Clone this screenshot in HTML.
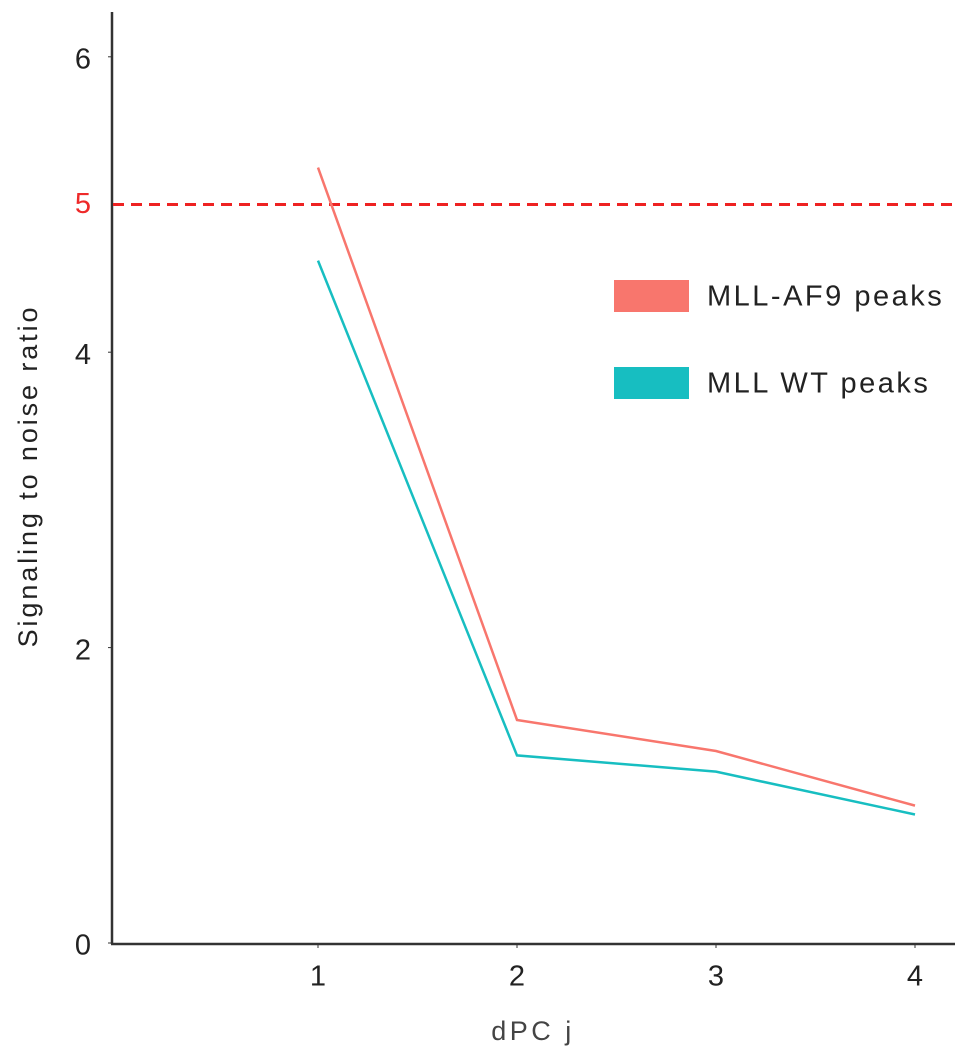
<!DOCTYPE html>
<html><head><meta charset="utf-8"><style>
body{margin:0;background:#fff}
svg{display:block;font-family:"Liberation Sans",sans-serif}
</style></head><body>
<svg id="chart" width="969" height="1060" viewBox="0 0 969 1060">
<g id="axes"></g>
<g id="marks"></g>
<text transform="translate(30,476) rotate(-90)" text-anchor="middle" font-size="27" letter-spacing="2.9" fill="#222" dominant-baseline="middle">Signaling to noise ratio</text>
<text x="533" y="1033" text-anchor="middle" font-size="27" letter-spacing="3.5" fill="#444" dominant-baseline="middle">dPC j</text>
<g>
<rect x="614" y="280" width="75" height="32" fill="#F8766D"/>
<text x="707" y="298" font-size="29" letter-spacing="2.5" fill="#222" dominant-baseline="middle">MLL-AF9 peaks</text>
<rect x="614" y="367" width="75" height="32" fill="#17BEC1"/>
<text x="707" y="385" font-size="29" letter-spacing="2.5" fill="#222" dominant-baseline="middle">MLL WT peaks</text>
</g>
</svg>
<script>
const categories=[1,2,3,4];
const af9Values=[5.25,1.51,1.30,0.93];
const wtValues=[4.62,1.27,1.16,0.87];
const yTicks=[0,2,4,6];
const threshold=5;
const NS="http://www.w3.org/2000/svg";
const x=v=>318+(v-1)*199;
const y=v=>943-v*147.7;
function mk(tag,attrs,parent,text){const e=document.createElementNS(NS,tag);for(const k in attrs)e.setAttribute(k,attrs[k]);if(text!==undefined)e.textContent=text;parent.appendChild(e);return e;}
const axes=document.getElementById('axes'),marks=document.getElementById('marks');
let e=mk('line',{x1:112,y1:12,x2:112,y2:944,stroke:'#333','stroke-width':2.5},axes);


e=mk('line',{x1:111,y1:944,x2:955,y2:944,stroke:'#333','stroke-width':2.5},axes);


yTicks.forEach(t=>{
 const l=mk('text',{x:91,y:y(t)+4,'text-anchor':'end','font-size':29,fill:'#222','dominant-baseline':'middle'},axes,String(t));
 
 
 mk('line',{x1:108,x2:112,y1:y(t),y2:y(t),stroke:'#333','stroke-width':1},axes);
});
let tl=mk('text',{x:91,y:y(threshold)+1,'text-anchor':'end','font-size':29,fill:'#ee2a2a','dominant-baseline':'middle'},axes,String(threshold));


categories.forEach(c=>{
 const l=mk('text',{x:x(c),y:978,'text-anchor':'middle','font-size':29,fill:'#222','dominant-baseline':'middle'},axes,String(c));
 
 
 mk('line',{x1:x(c),x2:x(c),y1:944,y2:948,stroke:'#333','stroke-width':1},axes);
});
const th=mk('line',{x1:113,x2:955,y1:y(threshold),y2:y(threshold),stroke:'#ee2222','stroke-width':3,'stroke-dasharray':'11,7'},marks);


function series(vals,color,name){
 const p=mk('polyline',{points:vals.map((v,i)=>x(categories[i])+','+y(v)).join(' '),fill:'none',stroke:color,'stroke-width':2.5},marks);
 
 
}
series(af9Values,'#F8766D','line-mll-af9');
series(wtValues,'#17BEC1','line-mll-wt');
</script>
</body></html>
